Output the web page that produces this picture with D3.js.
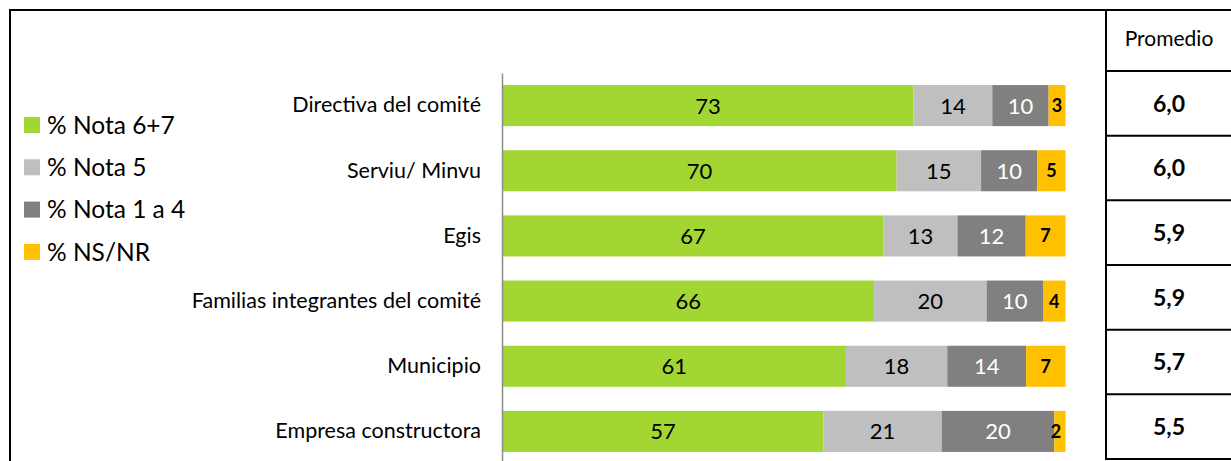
<!DOCTYPE html>
<html>
<head>
<meta charset="utf-8">
<script src="https://cdn.jsdelivr.net/npm/d3@7"></script>
<style>
  body { margin: 0; background: #fff; }
  svg { display: block; font-family: Lato, "Open Sans", sans-serif; }
</style>
</head>
<body>
<script>
const categories = ["Directiva del comité", "Serviu/ Minvu", "Egis",
  "Familias integrantes del comité", "Municipio", "Empresa constructora"];
const nota67 = [73, 70, 67, 66, 61, 57];
const nota5 = [14, 15, 13, 20, 18, 21];
const nota14 = [10, 10, 12, 10, 14, 20];
const nsnr = [3, 5, 7, 4, 7, 2];
const promedio = ["6,0", "6,0", "5,9", "5,9", "5,7", "5,5"];
const seriesNames = ["% Nota 6+7", "% Nota 5", "% Nota 1 a 4", "% NS/NR"];
const keys = ["n67", "n5", "n14", "ns"];

const colors = ["#a2d633", "#bfbfbf", "#808080", "#ffc000"];
const labelColors = ["#000", "#000", "#fff", "#000"];

const width = 1231, height = 461;

const rows = categories.map((c, i) => ({
  cat: c, n67: nota67[i], n5: nota5[i], n14: nota14[i], ns: nsnr[i]
}));

const svg = d3.select("body").append("svg")
    .attr("width", width)
    .attr("height", height);

// outer frame
svg.append("rect")
    .attr("x", 10).attr("y", 10)
    .attr("width", 1240).attr("height", 470)
    .attr("fill", "none")
    .attr("stroke", "#000")
    .attr("stroke-width", 2);

// 100% stacked, like the original
const x = d3.scaleLinear()
    .domain([0, 1])
    .range([502.5, 1065.5]);

const y = d3.scaleBand()
    .domain(categories)
    .range([73, 464])
    .paddingInner(0.37)
    .paddingOuter(0.185);

const stack = d3.stack().keys(keys).offset(d3.stackOffsetExpand);
const series = stack(rows);

const groups = svg.selectAll("g.series")
  .data(series)
  .enter().append("g")
    .attr("class", "series")
    .attr("fill", (d, i) => colors[i]);

groups.selectAll("rect")
  .data(d => d)
  .enter().append("rect")
    .attr("x", d => x(d[0]))
    .attr("y", d => y(d.data.cat))
    .attr("width", d => x(d[1]) - x(d[0]))
    .attr("height", y.bandwidth());

// value labels
series.forEach((s, si) => {
  const key = keys[si];
  svg.append("g").selectAll("text")
    .data(s)
    .enter().append("text")
      .attr("x", d => {
        const mid = x(d[0]) + (x(d[1]) - x(d[0])) / 2;
        return si === 3 && d.data[key] < 3 ? mid - 4 : mid;
      })
      .attr("y", d => y(d.data.cat) + y.bandwidth() / 2)
      .attr("dy", "0.36em")
      .attr("text-anchor", "middle")
      .attr("fill", labelColors[si])
      .style("font-size", si === 3 ? "18px" : "22px")
      .style("font-weight", si === 3 ? "bold" : "normal")
      .text(d => d.data[key]);
});

// category axis
const axis = svg.append("g")
    .attr("transform", `translate(${x(0) - 0.5},0)`)
    .call(d3.axisLeft(y).tickSize(0).tickSizeOuter(0).tickPadding(21));
axis.select(".domain").attr("stroke", "#8c8c8c").attr("stroke-width", 1.5);
axis.selectAll(".tick text")
    .style("font-size", "21.5px")
    .style("font-family", "Lato, sans-serif")
    .attr("fill", "#000");

// legend
const legend = svg.append("g");
seriesNames.forEach((name, i) => {
  const ly = 125 + i * 42.3;
  legend.append("rect")
      .attr("x", 24).attr("y", ly - 8)
      .attr("width", 16).attr("height", 16)
      .attr("fill", colors[i]);
  legend.append("text")
      .attr("x", 47).attr("y", ly)
      .attr("dy", "0.36em")
      .style("font-size", "24.5px")
      .text(name);
});

// promedio table
const tx0 = 1106, tx1 = 1232;
const ty = d3.scaleBand()
    .domain(categories)
    .range([71, 459]);

const table = svg.append("g");
table.append("rect")
    .attr("x", tx0).attr("y", 10)
    .attr("width", tx1 - tx0).attr("height", 449)
    .attr("fill", "#fff")
    .attr("stroke", "#000")
    .attr("stroke-width", 2);
table.selectAll("line")
  .data(categories)
  .enter().append("line")
    .attr("x1", tx0).attr("x2", tx1)
    .attr("y1", d => ty(d)).attr("y2", d => ty(d))
    .attr("stroke", "#000")
    .attr("stroke-width", 2);
table.append("text")
    .attr("x", (tx0 + tx1) / 2).attr("y", 38)
    .attr("dy", "0.36em")
    .attr("text-anchor", "middle")
    .style("font-size", "21px")
    .text("Promedio");
table.selectAll("text.val")
  .data(promedio)
  .enter().append("text")
    .attr("class", "val")
    .attr("x", (tx0 + tx1) / 2)
    .attr("y", (d, i) => ty(categories[i]) + ty.bandwidth() / 2)
    .attr("dy", "0.36em")
    .attr("text-anchor", "middle")
    .style("font-size", "23px")
    .style("font-weight", "bold")
    .text(d => d);
</script>
</body>
</html>
